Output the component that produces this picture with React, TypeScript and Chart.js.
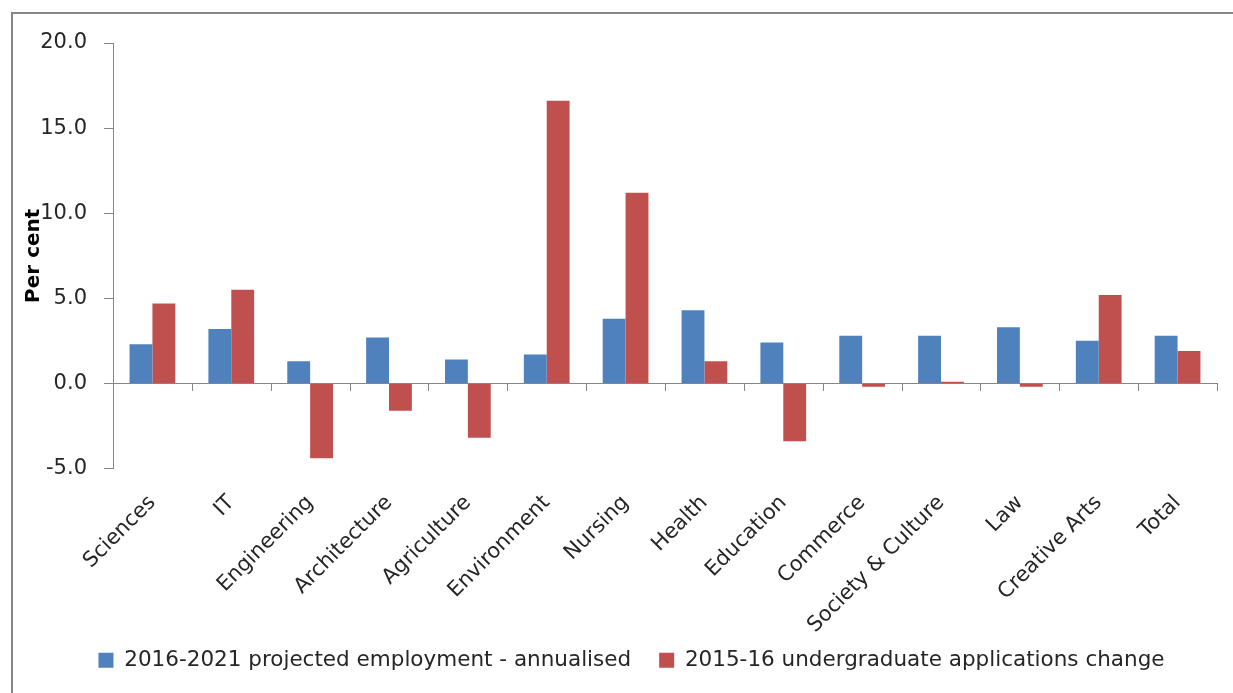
import React, { useEffect, useRef } from "react";
import { Chart, registerables } from "chart.js";

Chart.register(...registerables);

// Fields of education
const categories = [
  "Sciences",
  "IT",
  "Engineering",
  "Architecture",
  "Agriculture",
  "Environment",
  "Nursing",
  "Health",
  "Education",
  "Commerce",
  "Society & Culture",
  "Law",
  "Creative Arts",
  "Total",
];

// 2016-2021 projected employment growth, annualised (%)
const projectedEmployment = [2.3, 3.2, 1.3, 2.7, 1.4, 1.7, 3.8, 4.3, 2.4, 2.8, 2.8, 3.3, 2.5, 2.8];

// 2015-16 change in undergraduate applications (%)
const applicationsChange = [4.7, 5.5, -4.4, -1.6, -3.2, 16.6, 11.2, 1.3, -3.4, -0.2, 0.1, -0.2, 5.2, 1.9];

const seriesNames = [
  "2016-2021 projected employment - annualised",
  "2015-16 undergraduate applications change",
];

const yMin = -5;
const yMax = 20;
const yStep = 5;

const FONT = "'DejaVu Sans', 'Open Sans', sans-serif";
const AXIS_GREY = "#868686";
const TEXT = "#262626";

// Small downward tick marks on the zero line at every category boundary
const zeroLineTicks = {
  id: "zeroLineTicks",
  afterDatasetsDraw(chart: any) {
    const x = chart.scales.x;
    const y = chart.scales.y;
    const y0 = Math.round(y.getPixelForValue(0));
    const n = categories.length;
    const step = (x.right - x.left) / n;
    const ctx = chart.ctx;
    ctx.save();
    ctx.strokeStyle = AXIS_GREY;
    ctx.lineWidth = 1;
    ctx.beginPath();
    ctx.moveTo(x.left, y0 + 0.5);
    ctx.lineTo(x.right, y0 + 0.5);
    for (let k = 1; k <= n; k++) {
      const px = Math.round(x.left + k * step) + 0.5;
      ctx.moveTo(px, y0);
      ctx.lineTo(px, y0 + 8);
    }
    ctx.stroke();
    ctx.restore();
  },
};

// Nudge the legend row right of centre, and let the long rotated
// category labels run down past the x-scale box instead of being clipped
const layoutTweaks = {
  id: "layoutTweaks",
  afterLayout(chart: any) {
    const lg = chart.legend;
    if (lg) {
      lg.left += 12;
      lg.right += 12;
    }
    const x = chart.scales.x;
    if (x) {
      x.bottom = chart.height;
    }
  },
};

export default function App() {
  const canvasRef = useRef<HTMLCanvasElement | null>(null);

  useEffect(() => {
    const canvas = canvasRef.current;
    if (!canvas) return;
    const chart = new Chart(canvas, {
      type: "bar",
      data: {
        labels: categories,
        datasets: [
          {
            label: seriesNames[0],
            data: projectedEmployment,
            backgroundColor: "#4F81BD",
            borderWidth: 0,
          },
          {
            label: seriesNames[1],
            data: applicationsChange,
            backgroundColor: "#C0504D",
            borderWidth: 0,
          },
        ],
      },
      plugins: [zeroLineTicks, layoutTweaks],
      options: {
        responsive: false,
        animation: false,
        devicePixelRatio: 1,
        datasets: {
          bar: { categoryPercentage: 0.58, barPercentage: 1 },
        },
        layout: { padding: { left: 22, right: 16, top: 43, bottom: 0 } },
        plugins: {
          tooltip: { enabled: false },
          legend: {
            position: "bottom",
            labels: {
              boxWidth: 15,
              boxHeight: 15,
              padding: 28,
              color: TEXT,
              font: { family: FONT, size: 21.5 },
            },
          },
        },
        scales: {
          x: {
            grid: { display: false },
            border: { display: false },
            ticks: {
              color: TEXT,
              font: { family: FONT, size: 21 },
              minRotation: 45,
              maxRotation: 45,
              autoSkip: false,
              padding: 14,
            },
            afterFit(scale: any) {
              scale.height = 153;
            },
          },
          y: {
            min: yMin,
            max: yMax,
            ticks: {
              stepSize: yStep,
              color: TEXT,
              font: { family: FONT, size: 21 },
              padding: 17,
              callback: (v: any) => Number(v).toFixed(1),
            },
            grid: {
              drawOnChartArea: false,
              tickLength: 9,
              tickColor: AXIS_GREY,
            },
            border: { color: AXIS_GREY, width: 1 },
            title: {
              display: true,
              text: "Per cent",
              color: "#000000",
              font: { family: FONT, size: 20, weight: "bold" },
              padding: { top: 0, bottom: 0 },
            },
            afterFit(scale: any) {
              scale.width = 91;
            },
          },
        },
      },
    });
    return () => chart.destroy();
  }, []);

  return (
    <div
      style={{
        position: "fixed",
        left: 0,
        top: 0,
        width: 1233,
        height: 693,
        overflow: "hidden",
        background: "#ffffff",
      }}
    >
      <canvas ref={canvasRef} width={1233} height={681} style={{ display: "block" }} />
      <div
        style={{
          position: "absolute",
          left: 11,
          top: 12,
          width: 1400,
          height: 900,
          border: "2px solid #878787",
          pointerEvents: "none",
        }}
      />
    </div>
  );
}
